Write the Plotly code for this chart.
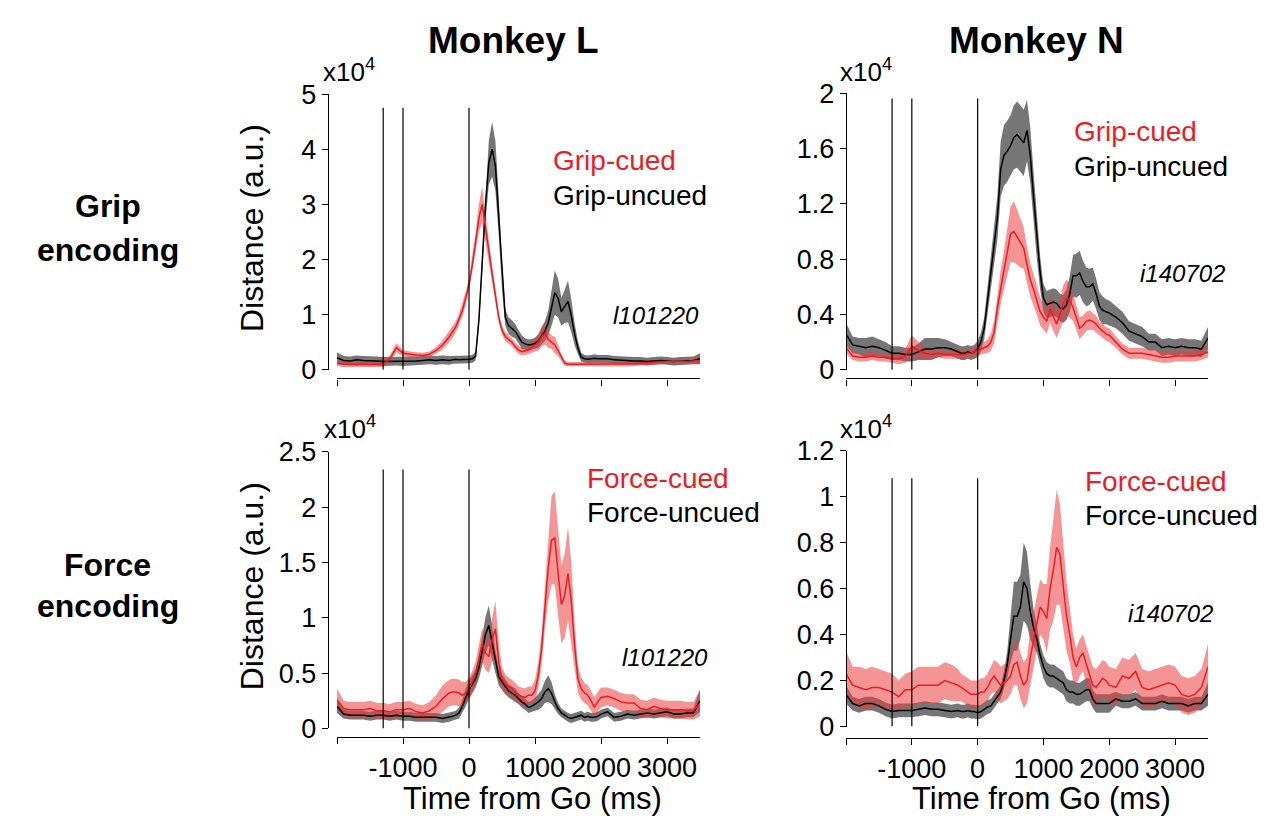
import plotly.graph_objects as go

# ---------------- data (distance values in units of 1e4) ----------------
T = list(range(-2000, -299, 100)) + list(range(-250, 2001, 50)) + list(range(2100, 3501, 100))
EVENTS = [-1300, -1000, 0]
TICK_X = [-2000, -1000, 0, 1000, 2000, 3000]
TICK_X_TEXT = ["", "-1000", "0", "1000", "2000", "3000"]

# Monkey L, grip
GL_unc = [0.22,0.17,0.16,0.18,0.17,0.17,0.16,0.15,0.15,0.16,0.15,0.15,0.16,0.17,0.18,0.17,0.18,0.17,
          0.18,0.19,0.18,0.18,0.19,0.19,0.2,0.25,0.9,1.9,3.0,3.75,4.0,3.7,2.8,1.7,0.95,0.8,0.75,0.7,0.6,0.5,0.47,0.45,0.46,0.48,0.52,0.6,0.7,0.85,1.1,1.4,1.3,1.05,1.15,1.24,0.98,0.65,0.4,0.23,0.2,0.19,0.2,0.21,0.2,0.2,
          0.2,0.18,0.17,0.16,0.16,0.16,0.15,0.16,0.17,0.16,0.15,0.16,0.16,0.17,0.2]
GL_unc_sem = [0.1,0.08,0.08,0.08,0.08,0.08,0.08,0.08,0.08,0.08,0.08,0.08,0.08,0.08,0.08,0.08,0.08,0.08,
              0.07,0.07,0.07,0.07,0.07,0.07,0.07,0.08,0.12,0.2,0.3,0.4,0.5,0.45,0.35,0.25,0.15,0.15,0.15,0.13,0.12,0.12,0.1,0.1,0.1,0.1,0.12,0.15,0.18,0.22,0.3,0.4,0.35,0.25,0.3,0.38,0.3,0.2,0.12,0.08,0.07,0.07,0.07,0.07,0.07,0.07,
              0.07,0.07,0.07,0.07,0.07,0.07,0.07,0.07,0.07,0.07,0.07,0.07,0.07,0.07,0.1]
GL_cue = [0.12,0.1,0.1,0.09,0.1,0.09,0.1,0.1,0.2,0.4,0.3,0.28,0.27,0.26,0.28,0.35,0.45,0.6,
          0.68,0.78,0.92,1.08,1.3,1.55,1.9,2.3,2.75,3.0,2.55,2.1,1.75,1.35,0.95,0.72,0.6,0.55,0.5,0.42,0.36,0.33,0.34,0.36,0.4,0.45,0.5,0.6,0.66,0.55,0.5,0.45,0.35,0.22,0.12,0.1,0.1,0.1,0.1,0.1,0.1,0.1,0.1,0.1,0.1,0.1,
          0.1,0.1,0.1,0.1,0.11,0.12,0.13,0.13,0.14,0.15,0.15,0.16,0.15,0.16,0.17]
GL_cue_sem = [0.05,0.05,0.05,0.05,0.05,0.05,0.05,0.05,0.06,0.08,0.06,0.05,0.05,0.05,0.05,0.06,0.08,0.1,
              0.1,0.1,0.1,0.12,0.12,0.12,0.15,0.18,0.25,0.33,0.25,0.2,0.15,0.12,0.1,0.08,0.08,0.08,0.07,0.07,0.07,0.07,0.07,0.08,0.1,0.12,0.15,0.18,0.2,0.15,0.12,0.15,0.1,0.06,0.05,0.04,0.04,0.04,0.04,0.04,0.04,0.04,0.04,0.04,0.04,0.04,
              0.04,0.04,0.04,0.04,0.04,0.04,0.04,0.04,0.04,0.04,0.04,0.04,0.04,0.04,0.05]

# Monkey N, grip
GN_unc = [0.26,0.18,0.17,0.16,0.17,0.16,0.14,0.12,0.12,0.11,0.11,0.13,0.15,0.15,0.16,0.16,0.15,0.13,
          0.12,0.12,0.13,0.12,0.13,0.15,0.2,0.3,0.5,0.68,0.9,1.1,1.45,1.55,1.58,1.62,1.68,1.7,1.67,1.64,1.73,1.55,1.25,0.95,0.7,0.52,0.47,0.48,0.49,0.48,0.45,0.44,0.47,0.55,0.68,0.68,0.7,0.64,0.6,0.6,0.62,0.55,0.46,0.43,0.42,0.41,
          0.38,0.34,0.28,0.26,0.24,0.2,0.2,0.16,0.17,0.16,0.17,0.16,0.16,0.15,0.23]
GN_unc_sem = [0.08,0.06,0.06,0.07,0.07,0.06,0.06,0.05,0.05,0.05,0.05,0.06,0.08,0.08,0.07,0.06,0.05,0.05,
              0.05,0.05,0.05,0.05,0.05,0.06,0.07,0.08,0.1,0.12,0.14,0.16,0.2,0.22,0.22,0.22,0.23,0.24,0.24,0.24,0.22,0.2,0.18,0.15,0.12,0.1,0.1,0.1,0.1,0.1,0.1,0.1,0.11,0.13,0.15,0.16,0.16,0.15,0.14,0.13,0.12,0.11,0.1,0.1,0.09,0.09,
              0.08,0.08,0.07,0.07,0.07,0.06,0.06,0.06,0.06,0.06,0.06,0.06,0.06,0.06,0.08]
GN_cue = [0.16,0.1,0.09,0.09,0.1,0.09,0.09,0.08,0.08,0.1,0.17,0.14,0.12,0.11,0.12,0.11,0.11,0.11,
          0.11,0.11,0.12,0.12,0.13,0.14,0.15,0.16,0.17,0.2,0.27,0.45,0.6,0.72,0.85,0.98,1.0,0.96,0.92,0.88,0.76,0.65,0.58,0.5,0.42,0.38,0.35,0.44,0.38,0.33,0.4,0.48,0.52,0.5,0.45,0.38,0.3,0.32,0.35,0.36,0.35,0.33,0.3,0.28,0.26,0.25,
          0.2,0.15,0.12,0.12,0.12,0.11,0.1,0.09,0.09,0.1,0.1,0.1,0.1,0.11,0.13]
GN_cue_sem = [0.04,0.03,0.03,0.03,0.03,0.03,0.03,0.03,0.04,0.05,0.08,0.06,0.04,0.03,0.03,0.03,0.03,0.03,
              0.03,0.03,0.03,0.03,0.04,0.04,0.04,0.04,0.05,0.06,0.08,0.1,0.12,0.14,0.16,0.2,0.22,0.2,0.18,0.15,0.13,0.12,0.11,0.1,0.1,0.09,0.09,0.1,0.1,0.1,0.11,0.13,0.13,0.12,0.1,0.09,0.08,0.07,0.07,0.07,0.06,0.06,0.05,0.05,0.05,0.05,
              0.04,0.04,0.04,0.04,0.04,0.04,0.04,0.04,0.04,0.04,0.04,0.04,0.04,0.04,0.04]

# Monkey L, force
FL_unc = [0.2,0.13,0.12,0.12,0.12,0.11,0.12,0.12,0.11,0.12,0.11,0.11,0.1,0.1,0.1,0.1,0.09,0.1,
          0.11,0.12,0.14,0.2,0.28,0.35,0.4,0.45,0.55,0.7,0.85,0.93,0.78,0.6,0.47,0.42,0.38,0.34,0.32,0.3,0.27,0.24,0.22,0.19,0.2,0.22,0.24,0.27,0.33,0.36,0.32,0.24,0.18,0.14,0.12,0.1,0.09,0.1,0.11,0.12,0.1,0.11,0.1,0.1,0.11,0.13,
          0.15,0.1,0.11,0.13,0.12,0.13,0.14,0.13,0.14,0.15,0.13,0.13,0.14,0.14,0.25]
FL_unc_sem = [0.06,0.04,0.04,0.04,0.04,0.04,0.04,0.04,0.04,0.04,0.04,0.04,0.04,0.04,0.04,0.04,0.04,0.04,
              0.04,0.04,0.05,0.06,0.08,0.08,0.08,0.08,0.1,0.12,0.16,0.18,0.15,0.1,0.08,0.07,0.07,0.06,0.06,0.06,0.05,0.05,0.05,0.05,0.05,0.06,0.07,0.08,0.1,0.12,0.1,0.07,0.05,0.04,0.04,0.04,0.04,0.04,0.04,0.04,0.04,0.04,0.04,0.04,0.04,0.04,
              0.04,0.04,0.04,0.04,0.04,0.04,0.04,0.04,0.04,0.04,0.04,0.04,0.04,0.04,0.1]
FL_cue = [0.26,0.18,0.17,0.17,0.17,0.18,0.16,0.16,0.15,0.17,0.17,0.18,0.15,0.14,0.16,0.2,0.27,0.32,
          0.33,0.33,0.32,0.3,0.32,0.36,0.42,0.5,0.62,0.76,0.68,0.65,0.8,0.9,0.6,0.45,0.4,0.38,0.36,0.33,0.3,0.29,0.28,0.3,0.3,0.34,0.48,0.72,1.1,1.45,1.7,1.72,1.4,1.12,1.2,1.4,1.15,0.75,0.45,0.36,0.32,0.3,0.25,0.19,0.24,0.28,
          0.29,0.27,0.24,0.23,0.23,0.18,0.17,0.2,0.18,0.17,0.17,0.17,0.16,0.16,0.23]
FL_cue_sem = [0.1,0.07,0.07,0.07,0.07,0.07,0.07,0.07,0.07,0.07,0.07,0.07,0.07,0.07,0.08,0.1,0.12,0.12,
              0.12,0.12,0.12,0.12,0.1,0.1,0.1,0.1,0.12,0.15,0.15,0.15,0.2,0.25,0.18,0.1,0.09,0.08,0.08,0.08,0.08,0.08,0.08,0.08,0.08,0.1,0.12,0.15,0.2,0.3,0.4,0.42,0.38,0.35,0.38,0.42,0.35,0.2,0.12,0.1,0.09,0.09,0.09,0.09,0.09,0.09,
              0.08,0.08,0.08,0.08,0.08,0.08,0.08,0.08,0.08,0.08,0.08,0.08,0.08,0.08,0.12]

# Monkey N, force
FN_unc = [0.14,0.1,0.09,0.1,0.1,0.09,0.075,0.065,0.07,0.07,0.07,0.075,0.08,0.075,0.075,0.07,0.065,0.07,
          0.065,0.065,0.07,0.065,0.065,0.06,0.065,0.075,0.085,0.09,0.11,0.13,0.15,0.2,0.27,0.38,0.48,0.48,0.52,0.63,0.6,0.5,0.43,0.38,0.31,0.26,0.23,0.22,0.22,0.21,0.2,0.19,0.16,0.15,0.15,0.14,0.14,0.15,0.16,0.16,0.12,0.1,0.1,0.1,0.1,0.1,
          0.12,0.11,0.11,0.12,0.1,0.1,0.1,0.11,0.1,0.1,0.1,0.09,0.1,0.1,0.14]
FN_unc_sem = [0.04,0.03,0.03,0.03,0.03,0.03,0.03,0.03,0.03,0.03,0.03,0.03,0.03,0.03,0.03,0.03,0.03,0.03,
              0.03,0.03,0.03,0.03,0.03,0.03,0.03,0.03,0.03,0.03,0.03,0.03,0.03,0.04,0.06,0.1,0.15,0.15,0.14,0.17,0.16,0.12,0.08,0.06,0.05,0.05,0.05,0.05,0.05,0.05,0.05,0.05,0.05,0.05,0.05,0.05,0.05,0.05,0.05,0.05,0.04,0.04,0.04,0.04,0.04,0.04,
              0.03,0.03,0.03,0.03,0.03,0.03,0.03,0.03,0.03,0.03,0.03,0.03,0.03,0.03,0.05]
FN_cue = [0.23,0.18,0.17,0.16,0.17,0.17,0.16,0.15,0.13,0.16,0.16,0.18,0.18,0.18,0.18,0.2,0.19,0.18,
          0.17,0.16,0.15,0.14,0.14,0.14,0.15,0.15,0.17,0.2,0.22,0.2,0.18,0.19,0.2,0.22,0.27,0.28,0.22,0.18,0.2,0.3,0.38,0.45,0.52,0.5,0.47,0.6,0.68,0.78,0.75,0.6,0.48,0.4,0.3,0.26,0.3,0.32,0.27,0.22,0.18,0.17,0.19,0.21,0.2,0.18,
          0.17,0.22,0.21,0.24,0.17,0.16,0.17,0.18,0.19,0.18,0.14,0.13,0.14,0.17,0.26]
FN_cue_sem = [0.1,0.08,0.09,0.09,0.09,0.08,0.08,0.08,0.07,0.07,0.08,0.08,0.08,0.08,0.08,0.08,0.08,0.07,
              0.06,0.06,0.06,0.06,0.06,0.06,0.06,0.06,0.06,0.06,0.07,0.08,0.08,0.08,0.08,0.08,0.09,0.1,0.1,0.1,0.1,0.12,0.12,0.12,0.12,0.12,0.15,0.18,0.22,0.25,0.22,0.18,0.15,0.12,0.1,0.08,0.08,0.08,0.08,0.08,0.08,0.08,0.08,0.08,0.08,0.08,
              0.08,0.08,0.08,0.08,0.08,0.08,0.08,0.08,0.08,0.08,0.08,0.08,0.08,0.08,0.1]

for arr in [GL_unc, GL_unc_sem, GL_cue, GL_cue_sem, GN_unc, GN_unc_sem, GN_cue, GN_cue_sem,
            FL_unc, FL_unc_sem, FL_cue, FL_cue_sem, FN_unc, FN_unc_sem, FN_cue, FN_cue_sem]:
    assert len(arr) == len(T), (len(arr), len(T))

# ---------------- layout helpers ----------------
W, H = 1273, 836
def px(x): return x / W
def py(y): return 1 - y / H

RED = "#ec1c24"
RED_BAND = "rgba(236,60,60,0.55)"
GRAY_BAND = "rgba(80,80,80,0.78)"
FONT = "Liberation Sans, Arial, Helvetica, sans-serif"

panels = [
    dict(unc=GL_unc, unc_sem=GL_unc_sem, cue=GL_cue, cue_sem=GL_cue_sem,
         xd=(337, 700), yd=(82, 368), yaxpos=328, xaxpos=377, ymax=5,
         yt=[0, 1, 2, 3, 4, 5], ytt=["0", "1", "2", "3", "4", "5"], vtop=4.75, xlab=False,
         leg=("Grip-cued", "Grip-uncued"), legpos=(551, 151, 187), sess="l101220", sesspos=(701, 312),
         expos=(321, 58), ytitle=True, xtc=532),
    dict(unc=GN_unc, unc_sem=GN_unc_sem, cue=GN_cue, cue_sem=GN_cue_sem,
         xd=(846, 1208), yd=(81, 368), yaxpos=846, xaxpos=377, ymax=2,
         yt=[0, 0.4, 0.8, 1.2, 1.6, 2], ytt=["0", "0.4", "0.8", "1.2", "1.6", "2"], vtop=1.96, xlab=False,
         leg=("Grip-cued", "Grip-uncued"), legpos=(1072, 121, 157), sess="i140702", sesspos=(1227, 268),
         expos=(838, 58), ytitle=False, xtc=1041),
    dict(unc=FL_unc, unc_sem=FL_unc_sem, cue=FL_cue, cue_sem=FL_cue_sem,
         xd=(337, 700), yd=(453, 740), yaxpos=328, xaxpos=749, ymax=2.5,
         yt=[0, 0.5, 1, 1.5, 2, 2.5], ytt=["0", "0.5", "1", "1.5", "2", "2.5"], vtop=2.34, xlab=True,
         leg=("Force-cued", "Force-uncued"), legpos=(585, 481, 516), sess="l101220", sesspos=(710, 666),
         expos=(322, 428), ytitle=True, xtc=532),
    dict(unc=FN_unc, unc_sem=FN_unc_sem, cue=FN_cue, cue_sem=FN_cue_sem,
         xd=(846, 1208), yd=(452, 738), yaxpos=846, xaxpos=750, ymax=1.2,
         yt=[0, 0.2, 0.4, 0.6, 0.8, 1, 1.2], ytt=["0", "0.2", "0.4", "0.6", "0.8", "1", "1.2"], vtop=1.08, xlab=True,
         leg=("Force-cued", "Force-uncued"), legpos=(1083, 484, 519), sess="i140702", sesspos=(1215, 621),
         expos=(838, 428), ytitle=False, xtc=1041),
]

fig = go.Figure()
annotations = []
layout = dict(width=W, height=H, margin=dict(l=0, r=0, t=0, b=0),
              paper_bgcolor="white", plot_bgcolor="rgba(0,0,0,0)", showlegend=False,
              font=dict(family=FONT, color="black"))

for i, p in enumerate(panels, start=1):
    xa = "x" if i == 1 else f"x{i}"
    ya = "y" if i == 1 else f"y{i}"
    # bands
    for mean, sem, col in [(p["unc"], p["unc_sem"], GRAY_BAND), (p["cue"], p["cue_sem"], RED_BAND)]:
        upper = [m + s for m, s in zip(mean, sem)]
        lower = [max(m - s, 0) for m, s in zip(mean, sem)]
        fig.add_trace(go.Scatter(x=T + T[::-1], y=upper + lower[::-1], fill="toself",
                                 fillcolor=col, line=dict(width=0), mode="lines",
                                 hoverinfo="skip", xaxis=xa, yaxis=ya))
    # mean lines
    fig.add_trace(go.Scatter(x=T, y=p["unc"], mode="lines", line=dict(color="black", width=1.5),
                             xaxis=xa, yaxis=ya))
    fig.add_trace(go.Scatter(x=T, y=p["cue"], mode="lines", line=dict(color=RED, width=1.5),
                             xaxis=xa, yaxis=ya))
    # event lines
    for ev in EVENTS:
        fig.add_trace(go.Scatter(x=[ev, ev], y=[0, p["vtop"]], mode="lines",
                                 line=dict(color="black", width=1.2), xaxis=xa, yaxis=ya,
                                 hoverinfo="skip"))

    kx = "xaxis" if i == 1 else f"xaxis{i}"
    ky = "yaxis" if i == 1 else f"yaxis{i}"
    layout[kx] = dict(domain=[px(p["xd"][0]), px(p["xd"][1])], range=[-2000, 3500],
                      anchor="free", position=py(p["xaxpos"]),
                      showline=True, linecolor="black", linewidth=1.4, showgrid=False, zeroline=False,
                      ticks="outside", ticklen=6, tickwidth=1.4, tickcolor="black",
                      tickvals=TICK_X,
                      ticktext=TICK_X_TEXT if p["xlab"] else [""] * len(TICK_X),
                      tickfont=dict(size=27, family=FONT, color="black"), fixedrange=True)
    layout[ky] = dict(domain=[py(p["yd"][1]), py(p["yd"][0])], range=[0, p["ymax"]],
                      anchor="free", position=px(p["yaxpos"]),
                      showline=True, linecolor="black", linewidth=1.4, showgrid=False, zeroline=False,
                      ticks="outside", ticklen=6, tickwidth=1.4, tickcolor="black",
                      tickvals=p["yt"], ticktext=p["ytt"],
                      tickfont=dict(size=27, family=FONT, color="black"), fixedrange=True)

    # legend texts
    lx, ly1, ly2 = p["legpos"]
    annotations.append(dict(x=px(lx), y=py(ly1), xref="paper", yref="paper", xanchor="left", yanchor="middle",
                            text=p["leg"][0], showarrow=False, font=dict(size=28, color=RED, family=FONT)))
    annotations.append(dict(x=px(lx), y=py(ly2), xref="paper", yref="paper", xanchor="left", yanchor="middle",
                            text=p["leg"][1], showarrow=False, font=dict(size=28, color="black", family=FONT)))
    # session label
    sx, sy = p["sesspos"]
    annotations.append(dict(x=px(sx), y=py(sy), xref="paper", yref="paper", xanchor="right", yanchor="middle",
                            text=f"<i>{p['sess']}</i>", showarrow=False, font=dict(size=24, family=FONT)))
    # exponent label
    ex, ey = p["expos"]
    annotations.append(dict(x=px(ex), y=py(ey), xref="paper", yref="paper", xanchor="left", yanchor="middle",
                            text="x10<sup>4</sup>", showarrow=False, font=dict(size=26, family=FONT)))
    # y title
    if p["ytitle"]:
        annotations.append(dict(x=px(252), y=py((p["yd"][0] + p["yd"][1]) / 2 - 4), xref="paper", yref="paper",
                                xanchor="center", yanchor="middle", textangle=-90,
                                text="Distance (a.u.)", showarrow=False, font=dict(size=32, family=FONT)))
    # x title
    if p["xlab"]:
        annotations.append(dict(x=px(p["xtc"]), y=py(813), xref="paper", yref="paper",
                                xanchor="center", yanchor="middle",
                                text="Time from Go (ms)", showarrow=False, font=dict(size=31, family=FONT)))

# column titles
for txt, cx in [("Monkey L", 513), ("Monkey N", 1036)]:
    annotations.append(dict(x=px(cx), y=py(26), xref="paper", yref="paper", xanchor="center", yanchor="middle",
                            text=f"<b>{txt}</b>", showarrow=False, font=dict(size=37, family=FONT)))
# row titles
for txt, cy in [("Grip", 198), ("encoding", 244), ("Force", 570), ("encoding", 613)]:
    annotations.append(dict(x=px(108), y=py(cy), xref="paper", yref="paper", xanchor="center", yanchor="middle",
                            text=f"<b>{txt}</b>", showarrow=False, font=dict(size=32, family=FONT)))

layout["annotations"] = annotations
fig.update_layout(**layout)
fig.write_html("out.html")
